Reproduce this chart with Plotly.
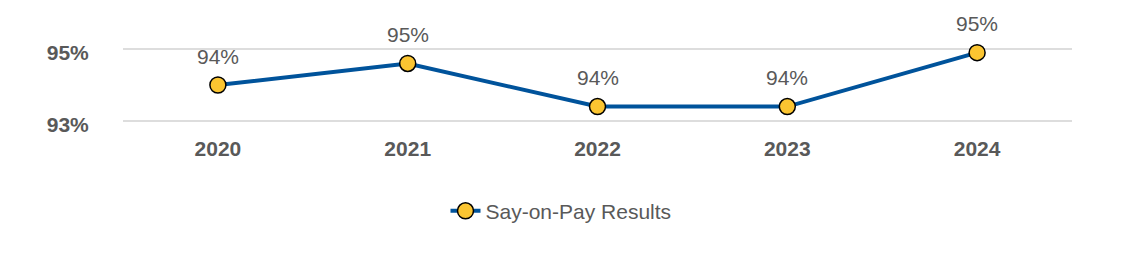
import plotly.graph_objects as go

years = ["2020", "2021", "2022", "2023", "2024"]
results = [94.0, 94.6, 93.4, 93.4, 94.9]
labels = ["94%", "95%", "94%", "94%", "95%"]
y_ticks = [93, 95]
y_tick_text = ["<b>93%</b>", "<b>95%</b>"]
x_tick_text = ["<b>" + y + "</b>" for y in years]

FONT = "Liberation Sans, Arial, sans-serif"
GRAY = "#595959"

fig = go.Figure()
fig.add_trace(go.Scatter(
    x=years, y=results, mode="lines+markers", name="Say-on-Pay Results",
    line=dict(color="#00539B", width=4),
    marker=dict(size=16, color="#FBC531", line=dict(color="#000000", width=1.5)),
    cliponaxis=False,
))

for i, (y, t) in enumerate(zip(results, labels)):
    fig.add_annotation(x=i, y=y, xref="x", yref="y", text=t, showarrow=False,
                       yshift=29, font=dict(family=FONT, size=21, color=GRAY))

fig.update_layout(
    width=1122, height=280,
    margin=dict(l=123, r=50, t=48, b=158),
    paper_bgcolor="white", plot_bgcolor="white",
    font=dict(family=FONT, size=21, color=GRAY),
    showlegend=True,
    legend=dict(orientation="h", xref="container", yref="container",
                x=0.5, xanchor="center", y=0.246, yanchor="middle",
                font=dict(family=FONT, size=21, color=GRAY)),
)
fig.update_xaxes(
    type="category", range=[-0.5, 4.5], showgrid=False, zeroline=False,
    showline=False, ticks="outside", ticklen=8, tickcolor="rgba(0,0,0,0)",
    tickvals=years, ticktext=x_tick_text,
    tickfont=dict(family=FONT, size=21, color=GRAY),
)
fig.update_yaxes(
    range=[92.97, 95.03], tickvals=y_ticks, ticktext=y_tick_text,
    showgrid=True, gridcolor="#DDDDDD", gridwidth=1.5, zeroline=False,
    showline=False, ticks="outside", ticklen=29, tickcolor="rgba(0,0,0,0)",
    ticklabelshift=4,
    tickfont=dict(family=FONT, size=21, color=GRAY),
)

fig.write_html("out.html")
